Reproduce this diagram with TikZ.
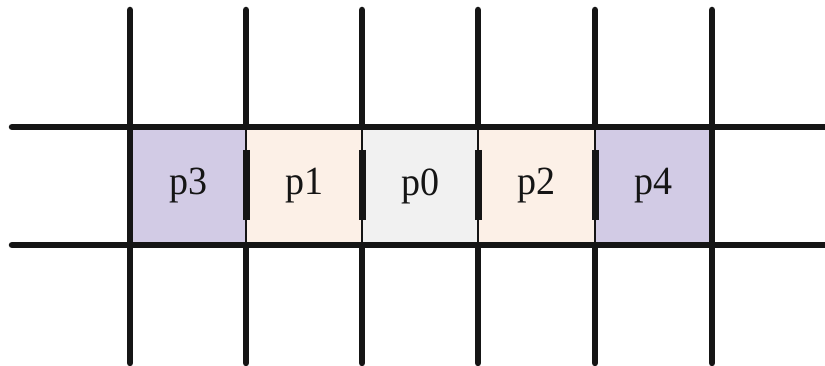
\documentclass[tikz,border=0pt]{standalone}
\usepackage{fontspec}
\setmainfont{Liberation Serif}
\definecolor{lav}{HTML}{D2CBE5}
\definecolor{peach}{HTML}{FCF0E7}
\definecolor{pale}{HTML}{F1F1F1}
\definecolor{ink}{HTML}{151515}
\tikzset{
  cell/.style={minimum width=116pt, minimum height=118pt, inner sep=0pt, draw=none,
    font=\fontsize{40}{40}\selectfont, text=ink},
  grid/.style={line width=6.5pt, draw=ink, line cap=round},
  thin/.style={line width=2.5pt, draw=ink},
}
\newcommand{\lab}[1]{\scalebox{0.95}[1]{#1}}
\begin{document}
\begin{tikzpicture}[x=1pt,y=-1pt]
\fill[white] (0,0) rectangle (825,366);
\useasboundingbox (0,0) rectangle (825,366);
% cells
\node[cell, fill=lav]   (c3) at (188,186) {\lab{p3}};
\node[cell, fill=peach] (c1) at (304,186) {\lab{p1}};
\node[cell, fill=pale]  (c0) at (420,186) {\lab{p0}};
\node[cell, fill=peach] (c2) at (536.5,186) {\lab{p2}};
\node[cell, fill=lav]   (c4) at (653.5,186) {\lab{p4}};
% horizontal lines
\draw[grid] (12,127) -- (830,127);
\draw[grid] (12,245) -- (830,245);
% outer vertical lines
\draw[grid] (130,10) -- (130,363);
\draw[grid] (712,10) -- (712,363);
% inner vertical lines
\foreach \x in {246,362,478,595}{
  \draw[grid] (\x,10) -- (\x,127);
  \draw[grid] (\x,245) -- (\x,363);
  \draw[thin] (\x,127) -- (\x,245);
  \draw[line width=7pt, draw=ink] (\x,150) -- (\x,220);
}
\end{tikzpicture}
\end{document}
